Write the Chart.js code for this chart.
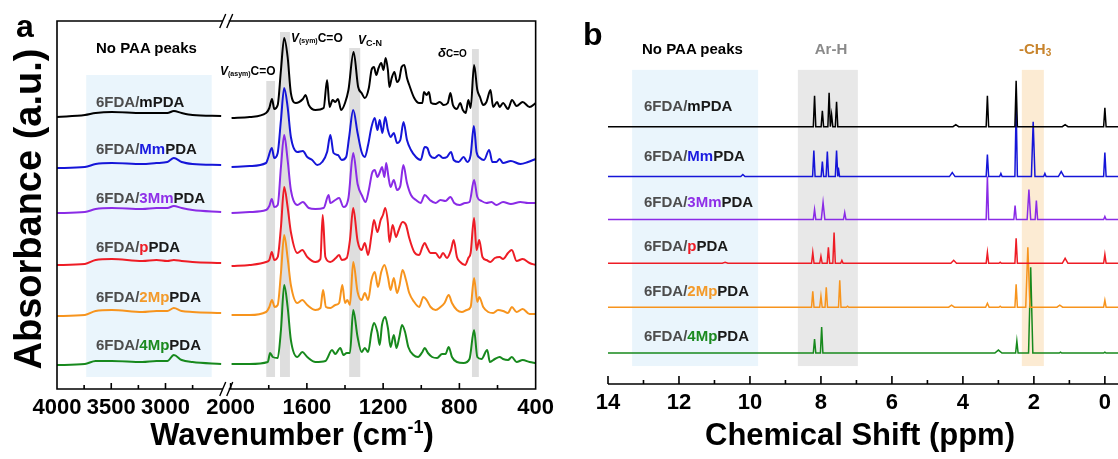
<!DOCTYPE html>
<html><head><meta charset="utf-8">
<script src="https://cdn.jsdelivr.net/npm/chart.js@4.4.1/dist/chart.umd.min.js"></script>
<style>
html,body{margin:0;padding:0;background:#fff;}
#wrap{position:relative;width:1118px;height:459px;overflow:hidden;font-family:"Liberation Sans",Arial,sans-serif;}
canvas{position:absolute;top:0;}
.t{position:absolute;white-space:nowrap;font-weight:bold;line-height:1;color:#000;}
.t i{font-style:italic;}
.sub{position:relative;}
</style></head><body><div id="wrap">
<canvas id="cA1" width="226" height="459" style="left:0"></canvas>
<canvas id="cA2" width="360" height="459" style="left:200px"></canvas>
<canvas id="cB" width="558" height="459" style="left:560px"></canvas>
</div>
<script>
// ================= DATA =================
const sampleNames = ['mPDA','MmPDA','3MmPDA','pPDA','2MpPDA','4MpPDA'];
const sampleHighlight = ['m','Mm','3Mm','p','2Mp','4Mp'];
const seriesColors = ['#000000','#1515d8','#8a2be6','#ee1c25','#f7941d','#17891d'];
const highlightColors = ['#111111','#1a1ae0','#8f2fe8','#ee1c25','#f39a2a','#1b8a1f'];

// FTIR spectra: [wavenumber (cm-1), absorbance (a.u., stacked)]
const ir_mPDA = [[4000,272],[3743,274],[3644,276],[3495,277],[3214,276],[3083,276],[2983,276],[2923,278],[2851,276],[2751,274],[2487,273],
[1995,271],[1900,272],[1814,276],[1797,281],[1783,290],[1771,280],[1753,284],[1736,319],[1719,351],[1701,332],[1684,296],[1658,286],[1621,290],[1607,294],[1590,284],[1555,279],[1512,281],[1494,309],[1481,282],[1465,289],[1451,287],[1437,290],[1420,279],[1400,286],[1382,299],[1355,337],[1331,302],[1313,296],[1296,291],[1275,301],[1261,319],[1248,322],[1236,314],[1224,321],[1210,326],[1198,319],[1187,331],[1175,319],[1167,302],[1155,311],[1141,317],[1127,307],[1115,310],[1103,322],[1089,324],[1075,311],[1063,304],[1037,291],[1011,286],[994,286],[986,297],[972,294],[960,297],[948,286],[925,285],[903,287],[882,284],[861,286],[847,296],[834,284],[813,280],[796,286],[782,279],[767,276],[753,289],[741,281],[723,324],[706,299],[692,292],[675,284],[658,287],[637,299],[623,282],[602,287],[589,282],[571,286],[545,280],[524,289],[500,283],[468,287],[432,282],[400,286]];
const ir_MmPDA = [[4000,221],[3743,222],[3644,225],[3495,226],[3214,225],[3083,226],[2983,227],[2923,231],[2851,227],[2751,225],[2487,224],
[1995,222],[1900,223],[1814,226],[1805,230],[1784,241],[1771,231],[1753,236],[1736,269],[1719,301],[1701,282],[1684,252],[1650,237],[1621,238],[1598,232],[1572,229],[1546,224],[1520,227],[1494,237],[1477,254],[1460,236],[1437,234],[1417,229],[1394,232],[1379,251],[1357,279],[1334,256],[1313,237],[1296,232],[1279,244],[1261,262],[1244,271],[1230,259],[1218,269],[1204,256],[1189,272],[1175,259],[1161,252],[1144,256],[1127,246],[1110,249],[1093,267],[1075,249],[1054,239],[1028,232],[1003,229],[982,242],[968,241],[955,234],[930,231],[908,234],[886,231],[865,232],[844,237],[830,229],[804,227],[778,232],[758,227],[741,234],[724,263],[710,237],[692,231],[671,229],[644,239],[627,227],[606,227],[589,230],[571,226],[530,228],[480,225],[440,227],[400,230]];
const ir_3MmPDA = [[4000,176],[3743,177],[3644,180],[3495,181],[3214,180],[3083,181],[2983,181],[2923,183],[2851,181],[2751,179],[2487,177],
[1995,176],[1900,177],[1814,179],[1797,183],[1784,190],[1771,182],[1753,184],[1736,222],[1719,254],[1701,229],[1684,199],[1650,184],[1621,187],[1590,181],[1555,180],[1512,181],[1486,194],[1477,186],[1451,189],[1431,191],[1408,182],[1382,191],[1357,236],[1334,205],[1310,193],[1292,187],[1275,199],[1258,216],[1244,219],[1230,212],[1217,217],[1206,222],[1193,212],[1184,226],[1172,212],[1161,202],[1144,209],[1127,199],[1110,203],[1094,224],[1075,206],[1054,194],[1028,189],[1003,186],[982,194],[955,189],[925,186],[899,189],[873,188],[847,192],[827,186],[799,184],[770,186],[747,187],[723,209],[706,192],[684,188],[658,186],[632,187],[606,184],[571,187],[530,185],[480,187],[440,186],[400,186]];
const ir_pPDA = [[4000,124],[3743,125],[3644,129],[3495,130],[3214,128],[3083,129],[2983,128],[2923,129],[2851,128],[2751,127],[2487,126],
[1995,123],[1900,124],[1814,127],[1797,129],[1784,137],[1771,129],[1753,132],[1736,162],[1719,202],[1701,182],[1684,157],[1650,136],[1624,139],[1598,132],[1555,127],[1529,130],[1517,174],[1503,132],[1477,127],[1448,131],[1431,134],[1417,129],[1391,131],[1374,149],[1357,181],[1334,148],[1313,139],[1296,146],[1279,134],[1261,154],[1248,169],[1230,157],[1213,169],[1201,174],[1189,181],[1175,166],[1167,147],[1150,164],[1132,152],[1120,158],[1098,167],[1080,164],[1063,151],[1037,137],[1011,134],[994,142],[982,146],[968,141],[951,136],[925,136],[903,131],[886,136],[865,131],[844,139],[830,149],[813,132],[796,127],[770,124],[753,131],[741,136],[723,171],[710,139],[696,149],[679,132],[658,129],[637,127],[614,131],[589,132],[571,130],[545,136],[525,139],[500,128],[468,130],[432,126],[400,124]];
const ir_2MpPDA = [[4000,73],[3743,74],[3644,78],[3495,79],[3214,77],[3083,78],[2983,78],[2923,81],[2851,78],[2751,77],[2487,76],
[1995,74],[1900,74],[1814,77],[1797,82],[1783,89],[1769,82],[1753,84],[1736,116],[1719,154],[1701,131],[1684,104],[1650,86],[1624,89],[1598,84],[1555,79],[1529,81],[1515,99],[1500,82],[1477,81],[1451,84],[1431,86],[1414,104],[1400,86],[1388,89],[1374,84],[1357,127],[1334,97],[1313,89],[1296,96],[1279,89],[1261,109],[1244,117],[1227,102],[1210,117],[1193,124],[1175,112],[1161,99],[1144,111],[1127,96],[1115,103],[1098,119],[1080,109],[1063,96],[1037,87],[1011,82],[989,92],[972,89],[951,82],[925,79],[899,82],[878,86],[856,94],[839,86],[813,79],[787,77],[761,79],[741,82],[723,111],[706,87],[696,92],[675,82],[649,77],[623,76],[597,79],[571,78],[545,76],[525,82],[500,77],[468,80],[432,75],[400,75]];
const ir_4MpPDA = [[4000,24],[3743,25],[3644,28],[3495,28],[3214,27],[3083,28],[2983,28],[2923,34],[2851,29],[2751,27],[2487,25],
[1995,25],[1900,25],[1805,27],[1793,36],[1779,32],[1753,31],[1736,59],[1719,104],[1701,82],[1684,49],[1650,32],[1624,37],[1598,32],[1555,27],[1503,28],[1468,39],[1451,35],[1425,41],[1408,34],[1391,36],[1374,36],[1357,79],[1334,52],[1313,37],[1296,41],[1279,37],[1261,57],[1248,66],[1230,57],[1218,44],[1206,64],[1189,72],[1175,61],[1161,42],[1144,54],[1130,41],[1115,52],[1101,64],[1085,57],[1068,42],[1041,34],[1017,32],[994,37],[982,41],[965,36],[943,32],[917,31],[891,35],[873,35],[856,42],[839,32],[813,27],[778,26],[747,30],[723,59],[706,32],[684,30],[654,39],[640,27],[614,30],[589,32],[571,30],[545,29],[525,32],[500,27],[468,29],[432,27],[400,26]];
const irSeries = [ir_mPDA, ir_MmPDA, ir_3MmPDA, ir_pPDA, ir_2MpPDA, ir_4MpPDA];

const irTicksLeftMajor = [4000,3500,3000];
const irTicksLeftMinor = [3750,3250,2750];
const irTicksRightMajor = [2000,1600,1200,800,400];
const irTicksRightMinor = [1800,1400,1000,600];
// shaded regions: [from, to, bottom, top]
const irNoPAARegion = [3731,2574,12,314];
const irBands = [[1813,1767,12,308],[1741,1689,12,357],[1378,1320,12,341],[734,698,12,340]];

// 1H NMR: baseline level per sample and peaks [ppm, top level, half width]
const nmrBaselines = [258,208,165,121,77,31];
const nmr_mPDA = [[8.18,289],[7.96,274],[7.77,292],[7.70,270],[7.56,283],[4.2,260,0.08],[3.31,289],[2.50,304],[1.12,260,0.08],[0.0,277]];
const nmr_MmPDA = [[10.2,210,0.06],[8.20,234],[7.96,223],[7.82,233],[7.56,234],[7.51,217],[4.30,212,0.08],[3.31,230],[2.93,211],[2.50,278],[2.02,263,0.05],[1.69,211],[1.23,213,0.08],[0.0,232]];
const nmr_3MmPDA = [[8.18,175],[7.94,182,0.05],[7.33,172],[3.31,208],[2.53,179],[2.14,195,0.05],[1.93,184],[0.0,168]];
const nmr_pPDA = [[10.7,122,0.08],[8.23,132],[8.00,128],[7.79,137],[7.63,152],[7.41,124],[4.26,124,0.08],[3.31,132],[2.95,122],[2.50,146],[1.12,126,0.08],[0.0,130]];
const nmr_2MpPDA = [[8.23,93],[8.00,88],[7.85,97],[7.47,104],[7.25,78],[4.32,79,0.08],[3.31,81,0.05],[2.95,78],[2.50,100],[2.17,137,0.06],[1.27,79,0.08],[0.0,84]];
const nmr_4MpPDA = [[8.18,45],[7.98,57],[3.0,34,0.1],[2.48,43],[2.09,117,0.06],[1.25,32],[0.0,32]];
const nmrSeries = [nmr_mPDA, nmr_MmPDA, nmr_3MmPDA, nmr_pPDA, nmr_2MpPDA, nmr_4MpPDA];
const nmrTicksMajor = [14,12,10,8,6,4,2,0];
const nmrTicksMinor = [13,11,9,7,5,3,1];
const nmrNoPAARegion = [13.32,9.77,18,315];
const nmrArHRegion = [8.65,6.96,18,315];
const nmrCH3Region = [2.34,1.72,18,315];

// ================= RENDER =================
const FONT = '"Liberation Sans", Arial, sans-serif';
Chart.defaults.font.family = FONT;

const deco = {
  id: 'deco',
  beforeDatasetsDraw(chart, args, o) {
    const {ctx, scales: {x, y}} = chart;
    ctx.save();
    (o.bands || []).forEach(b => {
      const x0 = x.getPixelForValue(b[0]), x1 = x.getPixelForValue(b[1]);
      const y0 = y.getPixelForValue(b[2]), y1 = y.getPixelForValue(b[3]);
      ctx.fillStyle = b[4];
      ctx.fillRect(Math.min(x0, x1), Math.min(y0, y1), Math.abs(x1 - x0), Math.abs(y1 - y0));
    });
    ctx.restore();
  },
  afterDraw(chart, args, o) {
    const {ctx, chartArea: a, scales: {x}} = chart;
    const s = o.sides || 'b';
    ctx.save();
    ctx.strokeStyle = '#000';
    ctx.lineWidth = 1.6;
    ctx.beginPath();
    const L = a.left, R = a.right;
    if (s.includes('b')) { ctx.moveTo(L - (s.includes('l') ? 0.8 : 0), a.bottom); ctx.lineTo(R + (s.includes('r') ? 0.8 : 0), a.bottom); }
    if (s.includes('t')) { ctx.moveTo(L - (s.includes('l') ? 0.8 : 0), a.top); ctx.lineTo(R + (s.includes('r') ? 0.8 : 0), a.top); }
    if (s.includes('l')) { ctx.moveTo(L, a.top); ctx.lineTo(L, a.bottom); }
    if (s.includes('r')) { ctx.moveTo(R, a.top); ctx.lineTo(R, a.bottom); }
    (o.major || []).forEach(v => { const p = x.getPixelForValue(v); ctx.moveTo(p, a.bottom); ctx.lineTo(p, a.bottom - o.majorLen); });
    (o.minor || []).forEach(v => { const p = x.getPixelForValue(v); ctx.moveTo(p, a.bottom); ctx.lineTo(p, a.bottom - o.minorLen); });
    ctx.stroke();
    if (o.breakMarks) {
      ctx.beginPath();
      ctx.lineWidth = 1.4;
      [a.top, a.bottom].forEach(cy => {
        [-6, 1].forEach(dx => {
          ctx.moveTo(L + dx - 3, cy + 7);
          ctx.lineTo(L + dx + 3, cy - 7);
        });
      });
      ctx.stroke();
    }
    ctx.restore();
  }
};

function baseOptions(xmin, xmax, ymax, padding, axisH, majors, decoOpts, fontSize) {
  return {
    responsive: false, animation: false, devicePixelRatio: 1,
    layout: { padding },
    plugins: { legend: { display: false }, tooltip: { enabled: false }, deco: decoOpts },
    elements: { point: { radius: 0 }, line: { tension: 0 } },
    scales: {
      x: {
        type: 'linear', reverse: true, min: xmin, max: xmax,
        grid: { display: false, drawTicks: false }, border: { display: false },
        afterBuildTicks: sc => { sc.ticks = majors.map(v => ({ value: v })); },
        afterFit: sc => { sc.height = axisH; },
        ticks: { autoSkip: false, maxRotation: 0, minRotation: 0, padding: 6, color: '#000',
                 font: { size: fontSize, weight: 'bold', family: FONT },
                 callback: v => String(v) }
      },
      y: { display: false, min: 0, max: ymax }
    }
  };
}

function irDatasets(keep) {
  return irSeries.map((s, i) => ({
    data: s.filter(p => keep(p[0])).map(p => ({ x: p[0], y: p[1] })),
    borderColor: seriesColors[i], borderWidth: 2, pointRadius: 0, fill: false,
    cubicInterpolationMode: 'monotone', borderJoinStyle: 'round'
  }));
}

const BLUE_BG = '#eaf5fc', GRAY_A = '#dedede';
// Left (4000-2470) segment
new Chart(document.getElementById('cA1'), {
  type: 'line', data: { datasets: irDatasets(v => v >= 2470) },
  options: baseOptions(2470, 4000, 368, { left: 57, right: 3, top: 21, bottom: 0 }, 70, irTicksLeftMajor,
    { sides: 'tbl', major: irTicksLeftMajor, minor: irTicksLeftMinor, majorLen: 6, minorLen: 4,
      bands: [[...irNoPAARegion, BLUE_BG]] }, 22),
  plugins: [deco]
});
// Right (2010-400) segment
new Chart(document.getElementById('cA2'), {
  type: 'line', data: { datasets: irDatasets(v => v <= 2010) },
  options: baseOptions(400, 2010, 368, { left: 27, right: 22, top: 21, bottom: 0 }, 70, irTicksRightMajor,
    { sides: 'tbr', major: irTicksRightMajor, minor: irTicksRightMinor, majorLen: 6, minorLen: 4, breakMarks: true,
      bands: irBands.map(b => [...b, GRAY_A]) }, 22),
  plugins: [deco]
});

function nmrPoints(peaks, base) {
  const pts = [{ x: 14, y: base }];
  peaks.slice().sort((a, b) => b[0] - a[0]).forEach(p => {
    const w = p[2] || 0.035;
    pts.push({ x: p[0] + w, y: base }, { x: p[0], y: p[1] }, { x: p[0] - w, y: base });
  });
  pts.push({ x: -0.4, y: base });
  return pts;
}
new Chart(document.getElementById('cB'), {
  type: 'line',
  data: { datasets: nmrSeries.map((s, i) => ({ data: nmrPoints(s, nmrBaselines[i]), borderColor: seriesColors[i], borderWidth: 1.5, pointRadius: 0, fill: false })) },
  options: baseOptions(-0.37, 14, 365, { left: 48, right: 0, top: 20, bottom: 0 }, 75, nmrTicksMajor,
    { sides: 'b', major: nmrTicksMajor, minor: nmrTicksMinor, majorLen: 8, minorLen: 4,
      bands: [[...nmrNoPAARegion, BLUE_BG], [...nmrArHRegion, '#e8e8e8'], [...nmrCH3Region, '#fcebd3']] }, 22),
  plugins: [deco]
});

// ================= TEXT =================
const wrap = document.getElementById('wrap');
function addText(html, x, baseline, size, opt = {}) {
  const d = document.createElement('div');
  d.className = 't';
  d.style.fontSize = size + 'px';
  d.style.left = x + 'px';
  d.style.top = (baseline - 0.8465 * size) + 'px';
  if (opt.color) d.style.color = opt.color;
  if (opt.center) d.style.transform = 'translateX(-50%)';
  d.innerHTML = html;
  wrap.appendChild(d);
  return d;
}
function sampleLabel(i) {
  return '<span style="color:#4d4d4d">6FDA/</span><span style="color:' + highlightColors[i] + '">' + sampleHighlight[i] +
    '</span><span style="color:#1a1a1a">' + sampleNames[i].slice(sampleHighlight[i].length) + '</span>';
}
// panel a
addText('a', 16, 37, 32);
addText('No PAA peaks', 96, 53, 15);
const labelBaseA = [107, 154, 203, 252, 302, 350];
const labelBaseB = [111, 161, 207, 251, 296, 341];
sampleNames.forEach((n, i) => { addText(sampleLabel(i), 96, labelBaseA[i], 15); addText(sampleLabel(i), 644, labelBaseB[i], 15); });
addText('<i>V</i><span class="sub" style="font-size:7px;top:1px">(asym)</span>C=O', 220, 75, 12);
addText('<i>V</i><span class="sub" style="font-size:7px;top:1px">(sym)</span>C=O', 291, 42, 12);
addText('<i>V</i><span class="sub" style="font-size:9px;top:2px">C-N</span>', 358, 44, 12);
addText('<i>δ</i><span style="font-size:10px">C=O</span>', 438, 57, 13);
addText('Wavenumber (cm<span class="sub" style="font-size:18px;top:-12px">-1</span>)', 292, 445, 31, { center: true });
const yt = addText('Absorbance (a.u.)', 0, 0, 38);
yt.style.left = '28px'; yt.style.top = '209px';
yt.style.transform = 'translate(-50%,-50%) rotate(-90deg)';
// panel b
addText('b', 583, 45, 32);
addText('No PAA peaks', 642, 54, 15);
addText('Ar-H', 831, 54, 15, { color: '#8a8a8a', center: true });
addText('-CH<span class="sub" style="font-size:10px;top:2px">3</span>', 1019, 54, 15, { color: '#c8842c' });
addText('Chemical Shift (ppm)', 860, 445, 31, { center: true });
</script>
</body></html>
